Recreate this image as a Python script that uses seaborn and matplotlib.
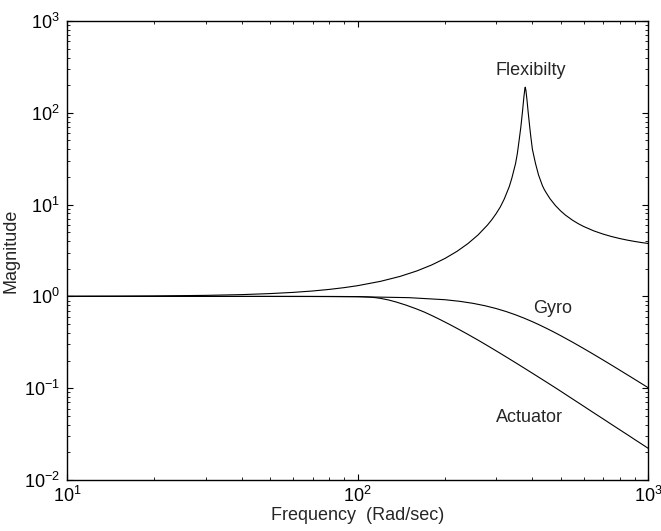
import matplotlib
matplotlib.use("Agg")
import matplotlib.pyplot as plt
import seaborn as sns
import pandas as pd

# ---- data ----
flex_freq = [10, 15, 20, 30, 40, 50, 60, 70, 80, 90, 100, 120, 140, 160, 180, 200,
             220, 240, 260, 280, 290, 300, 310, 320, 333, 340, 350, 355, 360, 365,
             370, 374, 377, 378, 380, 383, 387, 392, 395, 400, 410, 420, 433, 440,
             450, 460, 480, 500, 520, 550, 575, 600, 650, 700, 750, 800, 850, 900,
             950, 1000]
flex_mag = [1.003, 1.0065, 1.0115, 1.026, 1.046, 1.073, 1.106, 1.145, 1.192, 1.246,
            1.308, 1.459, 1.650, 1.893, 2.200, 2.590, 3.095, 3.763, 4.673, 5.974,
            6.85, 7.963, 9.40, 11.5, 15.7, 19.5, 28.0, 36.0, 50.0, 70.0,
            105.0, 150.0, 185.0, 190.0, 175.0, 140.0, 100.0, 68.0, 55.0, 40.0,
            28.0, 21.0, 16.1, 14.5, 12.9, 11.58, 9.77, 8.55, 7.675, 6.754,
            6.204, 5.783, 5.18, 4.776, 4.484, 4.267, 4.099, 3.967, 3.860, 3.773]

gyro_freq = [10, 20, 30, 50, 70, 100, 150, 200, 225, 250, 275, 300, 325, 350, 375,
             400, 425, 450, 475, 500, 550, 600, 650, 700, 750, 800, 850, 900, 950,
             1000]
gyro_mag = [1.0, 1.0, 0.9999, 0.9988, 0.9971, 0.9918, 0.9692, 0.9201, 0.8836, 0.8399,
            0.7906, 0.7378, 0.6836, 0.630, 0.5786, 0.5303, 0.4856, 0.4447, 0.4077,
            0.3742, 0.3171, 0.2710, 0.2336, 0.2031, 0.1780, 0.1571, 0.1396, 0.1249,
            0.1123, 0.1015]

act_freq = [10, 20, 40, 60, 80, 100, 105, 110, 115, 120, 128, 136, 147, 159, 170,
            180, 193, 207, 222, 240, 260, 284, 308, 330, 350, 375, 400, 425, 450,
            490, 535, 570, 600, 650, 700, 750, 800, 850, 900, 950, 1000]
act_mag = [1.0, 1.0, 1.0, 1.0, 0.999, 0.995, 0.990, 0.982, 0.970, 0.952, 0.914,
           0.868, 0.803, 0.734, 0.674, 0.620, 0.5566, 0.497, 0.4418, 0.3857, 0.334,
           0.2834, 0.2429, 0.2126, 0.1896, 0.1655, 0.1456, 0.129, 0.1151, 0.0969,
           0.0808, 0.0709, 0.0638, 0.0540, 0.0464, 0.0402, 0.0352, 0.0311, 0.0276,
           0.0247, 0.0222]

labels = ["Flexibilty", "Gyro", "Actuator"]
label_pos = [(396, 258), (468, 0.66), (392, 0.0425)]

x_label = "Frequency  (Rad/sec)"
y_label = "Magnitude"

# ---- styling ----
sns.set_style("ticks")
plt.rcParams["font.family"] = ["Liberation Sans", "DejaVu Sans"]
plt.rcParams["axes.unicode_minus"] = False
plt.rcParams["axes.linewidth"] = 1.0

fig = plt.figure(figsize=(6.61, 5.31), dpi=100)
ax = fig.add_axes([67 / 661, 1 - 480 / 531, (648 - 67) / 661, (480 - 21) / 531])

for fx, fy in [(flex_freq, flex_mag), (gyro_freq, gyro_mag), (act_freq, act_mag)]:
    df = pd.DataFrame({"freq": fx, "mag": fy})
    sns.lineplot(data=df, x="freq", y="mag", ax=ax, color="black", linewidth=0.8,
                 sort=False, estimator=None)

ax.set_xscale("log")
ax.set_yscale("log")
ax.set_xlim(10, 1000)
ax.set_ylim(1e-2, 1e3)

ax.tick_params(which="both", direction="in", top=True, right=True, colors="black")
ax.tick_params(which="major", length=4, width=0.8, labelsize=13)
ax.tick_params(which="minor", length=2.5, width=0.6)
ax.tick_params(axis="x", which="major", pad=4)
ax.tick_params(axis="y", which="major", pad=5)

for s in ax.spines.values():
    s.set_visible(True)
    s.set_color("black")

ax.set_xlabel(x_label, fontsize=13, labelpad=1)
ax.set_ylabel(y_label, fontsize=13, labelpad=3)

for txt, (tx, ty) in zip(labels, label_pos):
    ax.text(tx, ty, txt, ha="center", va="baseline", fontsize=13)

fig.savefig("out.png", dpi=100)
